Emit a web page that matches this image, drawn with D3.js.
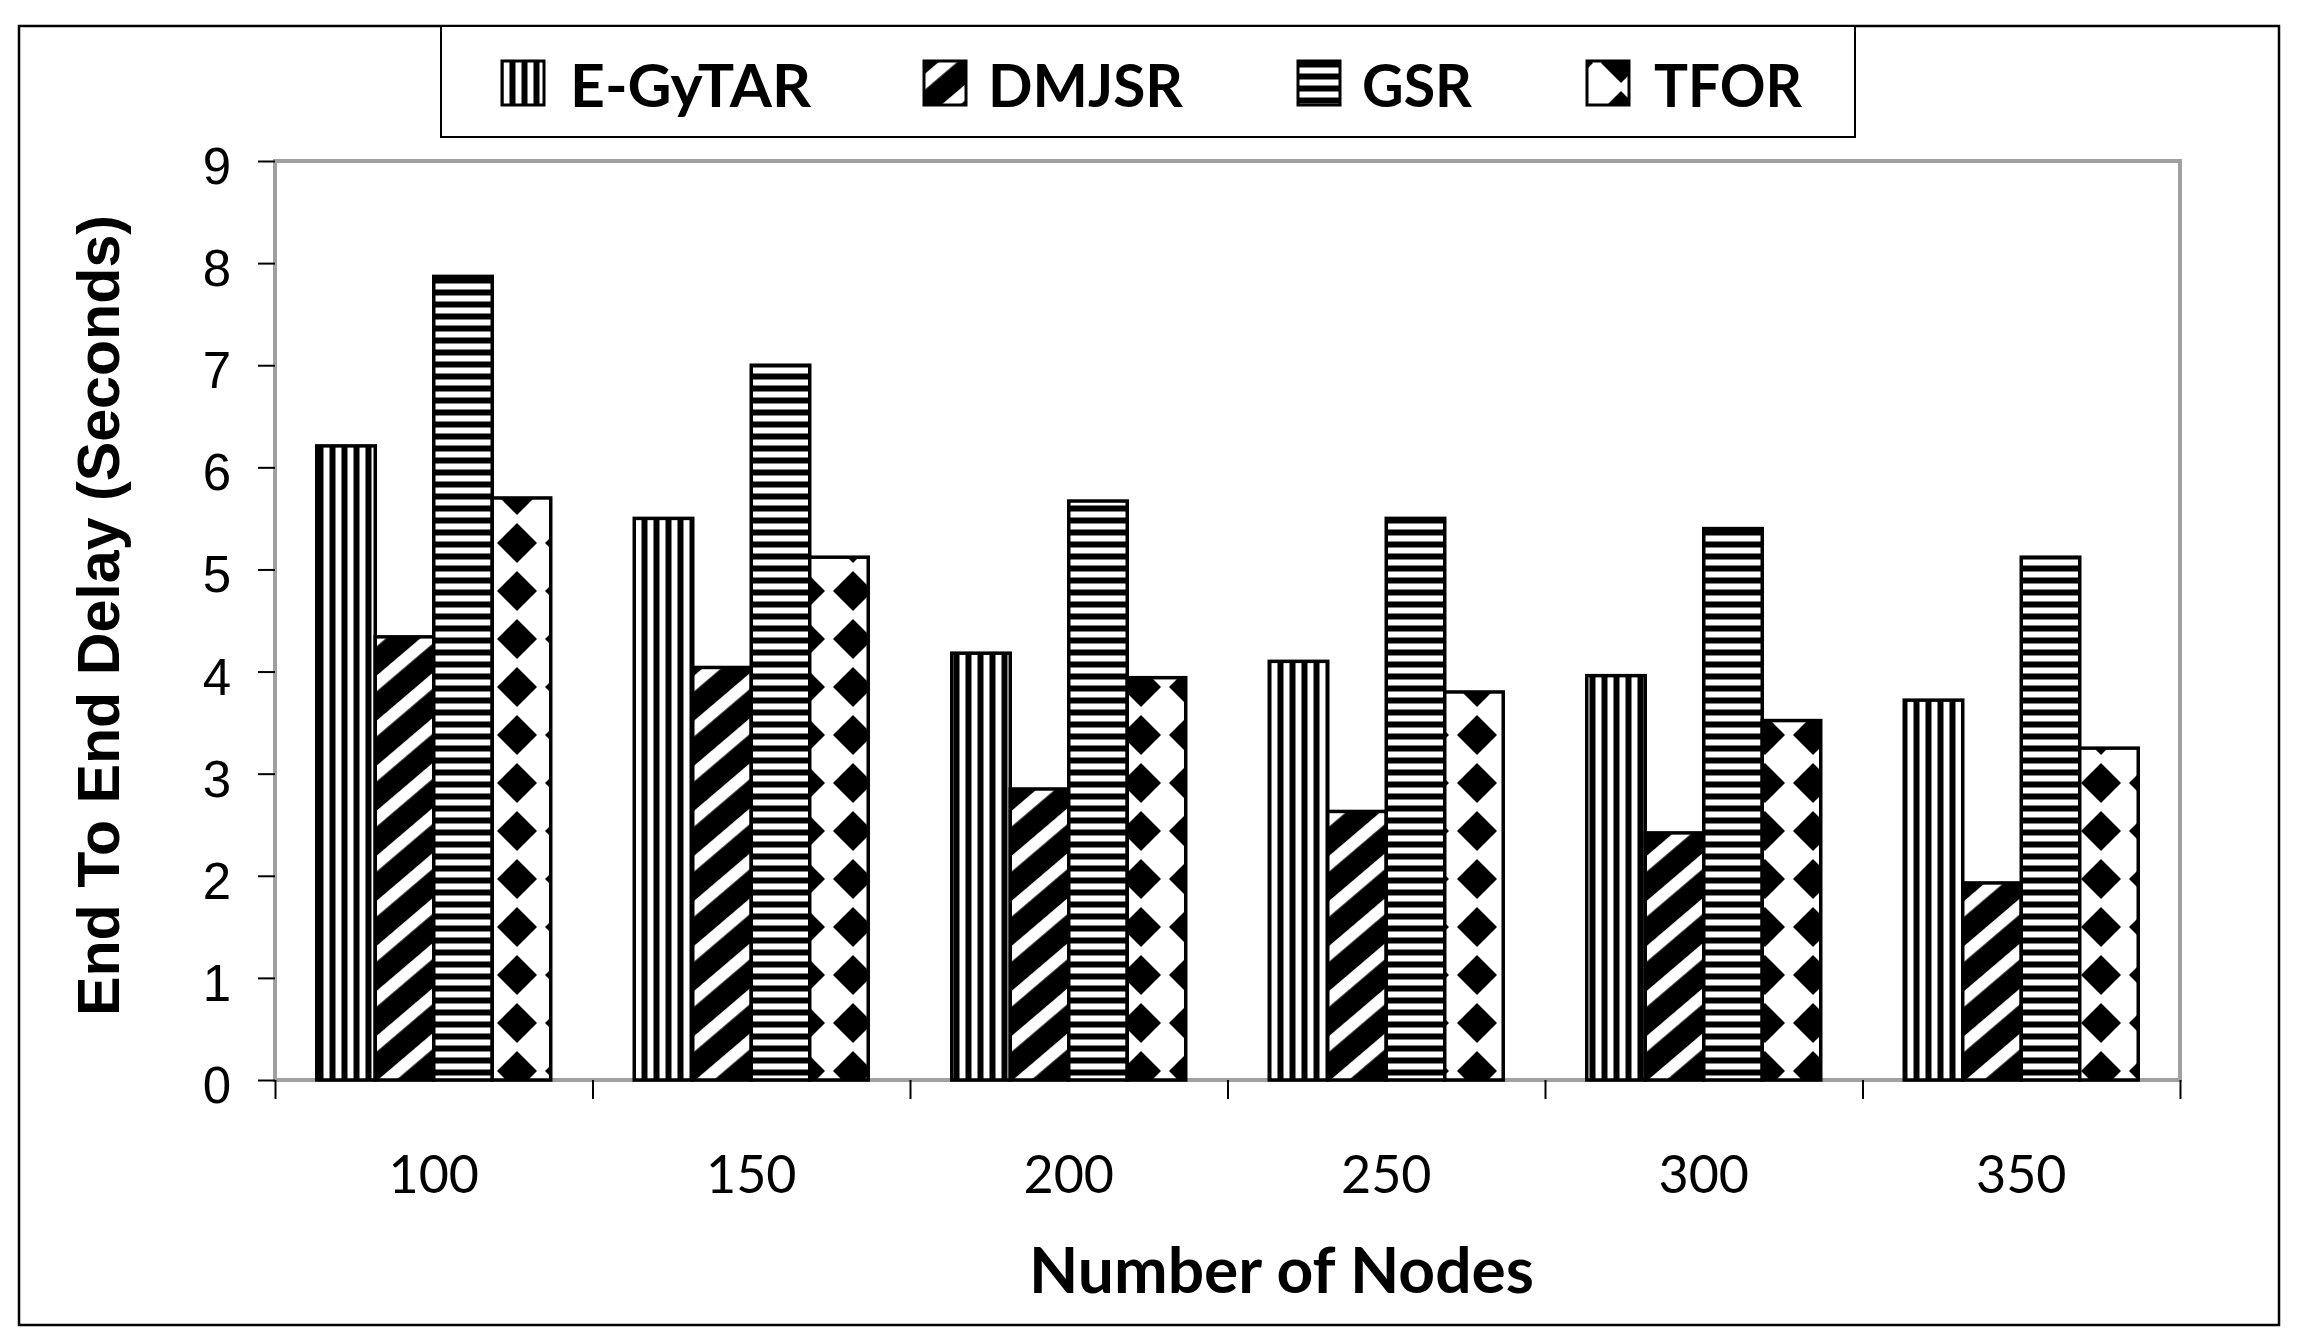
<!DOCTYPE html>
<html>
<head>
<meta charset="utf-8">
<script src="https://cdn.jsdelivr.net/npm/d3@7"></script>
<style>
  body { margin: 0; background: #fff; }
  svg { display: block; }
</style>
</head>
<body>
<div id="chart"></div>
<script>
// data
const categories = ["100", "150", "200", "250", "300", "350"];
const seriesNames = ["E-GyTAR", "DMJSR", "GSR", "TFOR"];
const eGyTAR = [6.21, 5.50, 4.18, 4.10, 3.96, 3.72];
const dmjsr  = [4.34, 4.04, 2.85, 2.63, 2.42, 1.93];
const gsr    = [7.87, 7.00, 5.67, 5.50, 5.40, 5.12];
const tfor   = [5.70, 5.12, 3.94, 3.80, 3.52, 3.25];
const yTicks = [0, 1, 2, 3, 4, 5, 6, 7, 8, 9];

const seriesValues = [eGyTAR, dmjsr, gsr, tfor];
const patternIds = ["pat-vert", "pat-diag", "pat-horz", "pat-diamond"];

const width = 2306, height = 1342;
const plot = { left: 275, right: 2180, top: 161, bottom: 1080 };

// legend layout (icon x, text x, text width)
const legendLayout = [
  { icon: 502, text: 570, w: 241 },
  { icon: 924, text: 988, w: 195 },
  { icon: 1298, text: 1362, w: 110 },
  { icon: 1587, text: 1654, w: 148 }
];

const svg = d3.select("#chart").append("svg")
  .attr("width", width)
  .attr("height", height)
  .attr("viewBox", [0, 0, width, height]);

svg.append("rect").attr("width", width).attr("height", height).attr("fill", "#fff");

// fill patterns, anchored to the page like the original
const defs = svg.append("defs");

const pv = defs.append("pattern").attr("id", "pat-vert")
  .attr("patternUnits", "userSpaceOnUse").attr("width", 12).attr("height", 12);
pv.append("rect").attr("width", 12).attr("height", 12).attr("fill", "#fff");
pv.append("rect").attr("x", 5.5).attr("width", 6).attr("height", 12).attr("fill", "#000");

const ph = defs.append("pattern").attr("id", "pat-horz")
  .attr("patternUnits", "userSpaceOnUse").attr("width", 12).attr("height", 12);
ph.append("rect").attr("width", 12).attr("height", 12).attr("fill", "#fff");
ph.append("rect").attr("y", 1.5).attr("width", 12).attr("height", 6).attr("fill", "#000");

const pd = defs.append("pattern").attr("id", "pat-diag")
  .attr("patternUnits", "userSpaceOnUse").attr("width", 20).attr("height", 34.3)
  .attr("patternTransform", "rotate(-40.4)");
pd.append("rect").attr("width", 20).attr("height", 34.3).attr("fill", "#000");
pd.append("rect").attr("y", 4).attr("width", 20).attr("height", 12).attr("fill", "#fff");

const pm = defs.append("pattern").attr("id", "pat-diamond")
  .attr("patternUnits", "userSpaceOnUse").attr("x", 13).attr("y", -9)
  .attr("width", 48).attr("height", 48);
pm.append("rect").attr("width", 48).attr("height", 48).attr("fill", "#fff");
pm.append("path").attr("d", "M24,4 L44,24 L24,44 L4,24 Z").attr("fill", "#000");

// outer chart border
svg.append("rect")
  .attr("x", 19).attr("y", 26).attr("width", 2260).attr("height", 1299)
  .attr("fill", "none").attr("stroke", "#000").attr("stroke-width", 2.5);

// scales
const x0 = d3.scaleBand().domain(categories).range([plot.left, plot.right]);
const x1 = d3.scaleBand().domain(seriesNames).range([0, x0.bandwidth()]).paddingOuter(0.714);
const y = d3.scaleLinear().domain([0, 9]).range([plot.bottom, plot.top]);

// plot area
svg.append("rect")
  .attr("x", plot.left).attr("y", plot.top)
  .attr("width", plot.right - plot.left).attr("height", plot.bottom - plot.top)
  .attr("fill", "#fff").attr("stroke", "#a0a0a0").attr("stroke-width", 4);

// bars (no group transform, so the patterns stay fixed to the page)
const barData = categories.flatMap((c, i) =>
  seriesNames.map((s, k) => ({ c, s, k, v: seriesValues[k][i] })));

svg.append("g").selectAll("rect")
  .data(barData)
  .join("rect")
  .attr("x", d => x0(d.c) + x1(d.s))
  .attr("y", d => y(d.v))
  .attr("width", x1.bandwidth())
  .attr("height", d => y(0) - y(d.v))
  .attr("fill", d => `url(#${patternIds[d.k]})`)
  .attr("stroke", "#000")
  .attr("stroke-width", 3.5);

// y axis
const yAxis = svg.append("g")
  .attr("transform", `translate(${plot.left},0)`)
  .call(d3.axisLeft(y).tickValues(yTicks).tickSize(17).tickPadding(27));
yAxis.select(".domain").remove();
yAxis.selectAll(".tick line").attr("stroke", "#000").attr("stroke-width", 2);
yAxis.selectAll(".tick text")
  .attr("dy", "0.44em")
  .style("font-family", "'Liberation Sans', Arial, sans-serif")
  .style("font-size", "51px")
  .attr("fill", "#000");

// x axis: boundary ticks
const xb = d3.scaleLinear().domain([0, categories.length]).range([plot.left, plot.right]);
const xTickAxis = svg.append("g")
  .attr("transform", `translate(0,${plot.bottom})`)
  .call(d3.axisBottom(xb).ticks(categories.length).tickSize(19).tickFormat(""));
xTickAxis.select(".domain").remove();
xTickAxis.selectAll(".tick line").attr("stroke", "#000").attr("stroke-width", 2);

// x axis: category labels
const xAxis = svg.append("g")
  .attr("transform", `translate(0,${plot.bottom})`)
  .call(d3.axisBottom(x0).tickSize(0).tickPadding(76));
xAxis.select(".domain").remove();
xAxis.selectAll(".tick text")
  .style("font-family", "Lato, 'Open Sans', sans-serif")
  .style("font-size", "52px")
  .attr("fill", "#000");

// axis titles
svg.append("text")
  .attr("transform", "translate(119,615.5) rotate(-90)")
  .attr("text-anchor", "middle")
  .attr("textLength", 801)
  .attr("lengthAdjust", "spacingAndGlyphs")
  .style("font-family", "'Liberation Sans', Arial, sans-serif")
  .style("font-weight", "bold")
  .style("font-size", "60px")
  .text("End To End Delay (Seconds)");

svg.append("text")
  .attr("x", 1029).attr("y", 1293)
  .attr("textLength", 505)
  .attr("lengthAdjust", "spacingAndGlyphs")
  .style("font-family", "Lato, 'Open Sans', sans-serif")
  .style("font-weight", "bold")
  .style("font-size", "64px")
  .text("Number of Nodes");

// legend
const legend = svg.append("g");
legend.append("rect")
  .attr("x", 441).attr("y", 26).attr("width", 1414).attr("height", 111)
  .attr("fill", "#fff").attr("stroke", "#000").attr("stroke-width", 2);

const items = legend.selectAll("g.item")
  .data(seriesNames)
  .join("g").attr("class", "item");

items.append("rect")
  .attr("x", (d, i) => legendLayout[i].icon)
  .attr("y", 61)
  .attr("width", 42).attr("height", 44)
  .attr("fill", (d, i) => `url(#${patternIds[i]})`)
  .attr("stroke", "#000").attr("stroke-width", 3);

items.append("text")
  .attr("x", (d, i) => legendLayout[i].text)
  .attr("y", 106.5)
  .attr("textLength", (d, i) => legendLayout[i].w)
  .attr("lengthAdjust", "spacingAndGlyphs")
  .style("font-family", "Lato, 'Open Sans', sans-serif")
  .style("font-weight", "bold")
  .style("font-size", "60px")
  .text(d => d);
</script>
</body>
</html>
